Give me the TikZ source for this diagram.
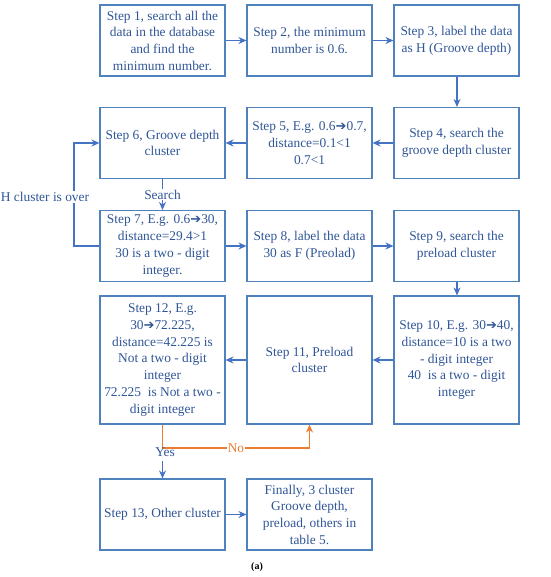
\documentclass[tikz,border=0pt]{standalone}
\usepackage{fontspec}
\setmainfont{Liberation Serif}
\newfontfamily\symf{DejaVu Sans}
\usetikzlibrary{arrows.meta}
\definecolor{boxc}{RGB}{79,129,189}
\definecolor{txtc}{RGB}{47,85,151}
\definecolor{arrc}{RGB}{68,114,196}
\definecolor{orc}{RGB}{237,125,49}
\newcommand{\ra}{{\symf\fontsize{13}{12}\selectfont ➔}}
\tikzset{
  stepbox/.style={draw=boxc, line width=1.1pt, minimum width=125pt, minimum height=71pt,
    align=center, inner sep=0pt, text=txtc,
    font=\rmfamily\fontsize{13.4}{16.7}\selectfont},
  tall/.style={minimum height=128pt},
  flow/.style={draw=arrc, line width=1.1pt, -{Stealth[length=8pt,width=7pt]}},
  flowo/.style={draw=orc, line width=1.1pt, -{Stealth[length=8pt,width=7pt]}},
  lbl/.style={text=txtc, font=\rmfamily\fontsize{13.4}{16.7}\selectfont, inner sep=1pt},
}
\begin{document}
\begin{tikzpicture}[x=1pt,y=-1pt]
\useasboundingbox (0,0) rectangle (550,577);
% row 1
\node[stepbox] (s1) at (162.5,40.5) {Step 1, search all the\\data in the database\\and find the\\minimum number.};
\node[stepbox] (s2) at (309.5,40.5) {Step 2, the minimum\\number is 0.6.};
\node[stepbox] (s3) at (456.5,40.5) {Step 3, label the data\\as H (Groove depth)};
% row 2
\node[stepbox] (s4) at (456.5,143) {Step 4, search the\\groove depth cluster};
\node[stepbox] (s5) at (309.5,143) {Step 5, E.g. 0.6\ra0.7,\\distance=0.1<1\\0.7<1};
\node[stepbox] (s6) at (162.5,143) {Step 6, Groove depth\\cluster};
% row 3
\node[stepbox] (s7) at (162.5,246) {Step 7, E.g. 0.6\ra30,\\distance=29.4>1\\30 is a two - digit\\integer.};
\node[stepbox] (s8) at (309.5,246) {Step 8, label the data\\30 as F (Preolad)};
\node[stepbox] (s9) at (456.5,246) {Step 9, search the\\preload cluster};
% row 4
\node[stepbox,tall] (s10) at (456.5,360) {Step 10, E.g. 30\ra40,\\distance=10 is a two\\- digit integer\\40\ \ is a two - digit\\integer};
\node[stepbox,tall] (s11) at (309.5,360) {Step 11, Preload\\cluster};
\node[stepbox,tall] (s12) at (162.5,360) {Step 12, E.g.\\30\ra72.225,\\distance=42.225 is\\Not a two - digit\\integer\\72.225\ \ is Not a two -\\digit integer};
% row 5
\node[stepbox] (s13) at (162.5,514.5) {Step 13, Other cluster};
\node[stepbox] (s14) at (309.5,514.5) {Finally, 3 cluster\\Groove depth,\\preload, others in\\table 5.};
% caption
\node[font=\bfseries\fontsize{10}{12}\selectfont] (cap) at (257,567) {(a)};
% connectors
\draw[flow] (s1) -- (s2);
\draw[flow] (s2) -- (s3);
\draw[flow] (s3.south -| 457,0) -- (s4.north -| 457,0);
\draw[flow] (s4) -- (s5);
\draw[flow] (s5) -- (s6);
\draw[flow] (s6) -- node[lbl, fill=white, pos=0.5] (srch) {Search} (s7);
\coordinate (hl) at (74,246);
\coordinate (hu) at (74,143);
\draw[flow] (s7.west) -- (hl) -- (hu) -- (s6.west);
\node[lbl, fill=white] (hover) at (45,197) {H cluster is over};
\draw[flow] (s7) -- (s8);
\draw[flow] (s8) -- (s9);
\draw[flow] (s9.south -| 457,0) -- (s10.north -| 457,0);
\draw[flow] (s10) -- (s11);
\draw[flow] (s11) -- (s12);
\coordinate (split) at (162.5,448);
\coordinate (yesb) at (162.5,461);
\draw[flowo] (s12.south) -- (split) -- node[lbl, text=orc, fill=white, pos=0.5] (no) {No} (split -| s11.south) -- (s11.south);
\node[lbl] (yes) at (165,452) {Yes};
\draw[flow] (yesb) -- (s13.north);
\draw[flow] (s13) -- (s14);
\end{tikzpicture}
\end{document}
